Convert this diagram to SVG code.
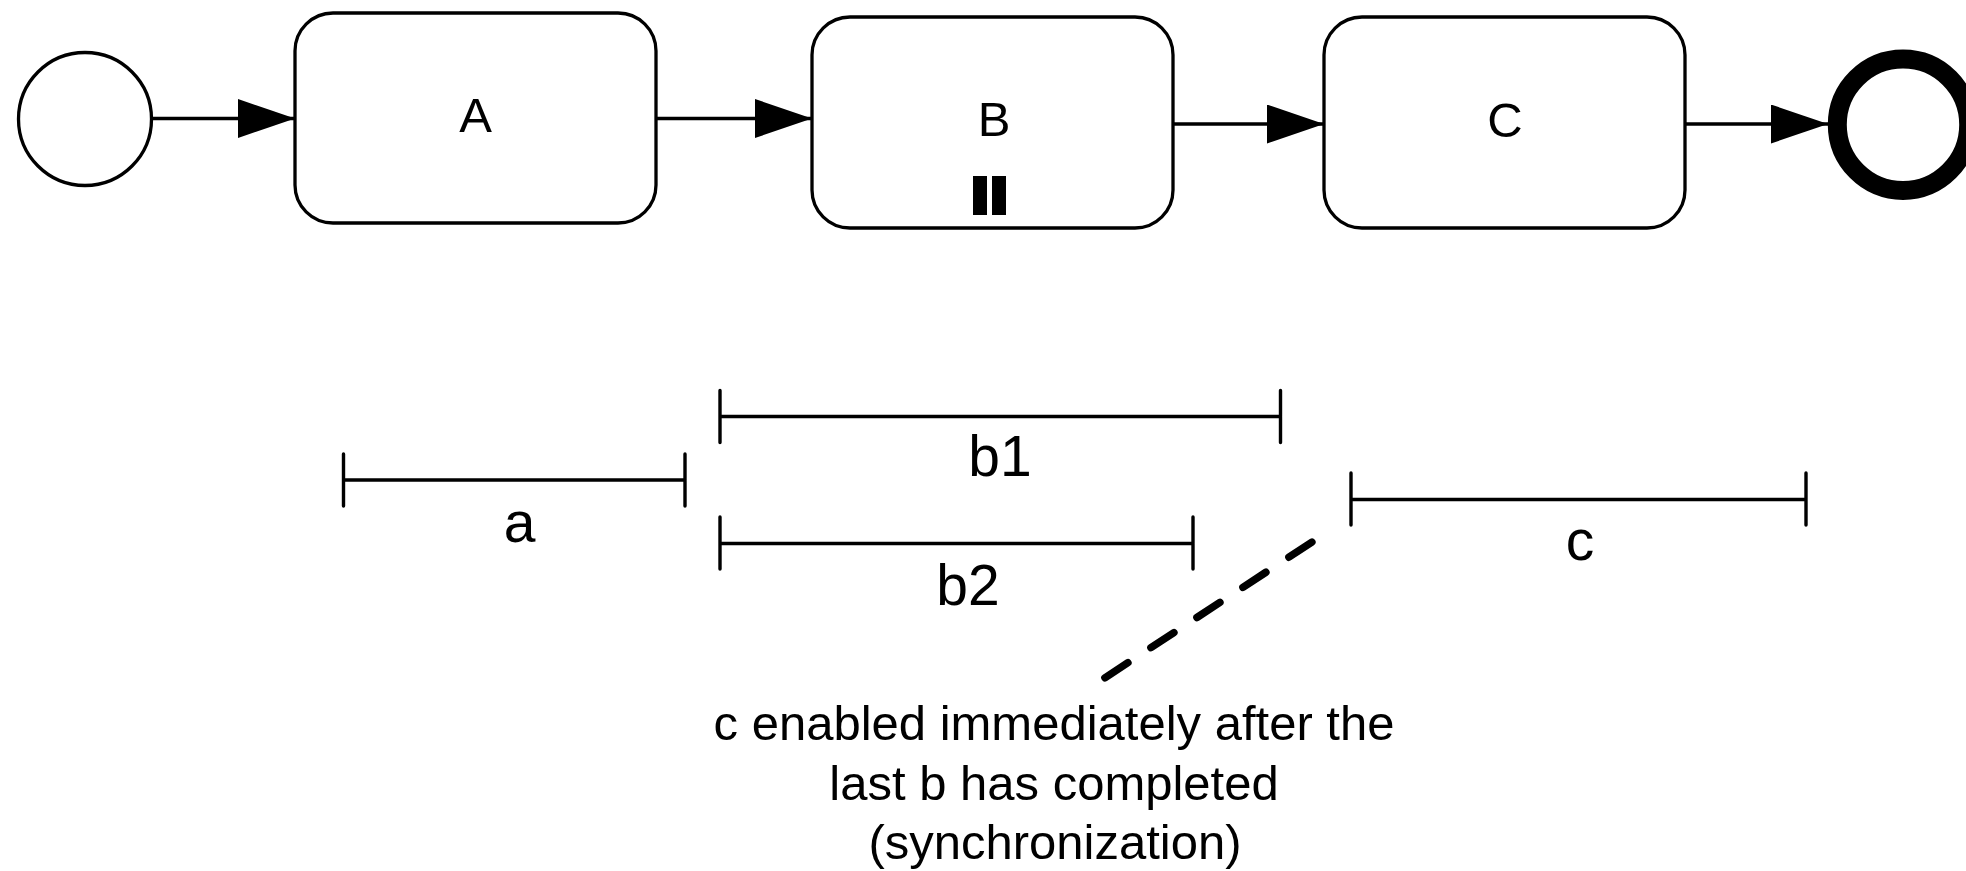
<svg xmlns="http://www.w3.org/2000/svg" width="1966" height="871" viewBox="0 0 1966 871">
  <style>
    .task { fill: #fff; stroke: #000; stroke-width: 3.3; }
    .lbl { font-family: "Liberation Sans", Arial, sans-serif; fill: #000; text-anchor: middle; }
    .node-lbl { font-size: 49px; }
    .bar-lbl { font-size: 57px; }
    .note { font-size: 49px; }
    .flow { stroke: #000; stroke-width: 3.6; fill: none; }
    .bar { stroke: #000; stroke-width: 3.4; fill: none; stroke-linecap: round; }
    .dash { stroke: #000; stroke-width: 7.5; fill: none; stroke-linecap: round; stroke-dasharray: 27.5 27.5; }
  </style>
  <defs>
    <marker id="arrow" markerUnits="userSpaceOnUse" markerWidth="57" markerHeight="40" refX="57" refY="19.5" orient="auto">
      <path d="M0,0 L57,19.5 L0,39 Z" fill="#000"/>
    </marker>
  </defs>
  <rect width="1966" height="871" fill="#fff"/>

  <g id="start">
    <circle cx="85" cy="119" r="66.5" fill="#fff" stroke="#000" stroke-width="3.3"/>
  </g>
  <g id="taskA">
    <rect class="task" x="295" y="13" width="361" height="210" rx="38" ry="38"/>
    <text class="lbl node-lbl" x="475.5" y="131.5">A</text>
  </g>
  <g id="taskB">
    <rect class="task" x="812" y="17" width="361" height="211" rx="38" ry="38"/>
    <text class="lbl node-lbl" x="994" y="136">B</text>
    <rect x="973" y="176" width="14" height="39" fill="#000"/>
    <rect x="992" y="176" width="14" height="39" fill="#000"/>
  </g>
  <g id="taskC">
    <rect class="task" x="1324" y="17" width="361" height="211" rx="38" ry="38"/>
    <text class="lbl node-lbl" x="1505" y="136.5">C</text>
  </g>
  <g id="end">
    <circle cx="1903" cy="124.7" r="65.7" fill="#fff" stroke="#000" stroke-width="19"/>
  </g>

  <g id="connectors">
    <line class="flow" x1="152" y1="118.5" x2="295" y2="118.5" marker-end="url(#arrow)"/>
    <line class="flow" x1="656" y1="118.5" x2="812" y2="118.5" marker-end="url(#arrow)"/>
    <line class="flow" x1="1173" y1="124" x2="1324" y2="124" marker-end="url(#arrow)"/>
    <line class="flow" x1="1685" y1="124" x2="1828" y2="124" marker-end="url(#arrow)"/>
  </g>

  <g id="timeline">
    <g id="bar-a">
      <path class="bar" d="M343.5,480 H685 M343.5,454 V506 M685,454 V506"/>
      <text class="lbl bar-lbl" x="519.5" y="541.5">a</text>
    </g>
    <g id="bar-b1">
      <path class="bar" d="M720,416.5 H1280.5 M720,390.5 V442.5 M1280.5,390.5 V442.5"/>
      <text class="lbl bar-lbl" x="1000" y="476">b1</text>
    </g>
    <g id="bar-b2">
      <path class="bar" d="M720,543.5 H1193 M720,517 V569 M1193,517 V569"/>
      <text class="lbl bar-lbl" x="968" y="605">b2</text>
    </g>
    <g id="bar-c">
      <path class="bar" d="M1351,499.5 H1806 M1351,473 V525 M1806,473 V525"/>
      <text class="lbl bar-lbl" x="1580" y="560">c</text>
    </g>
  </g>

  <g id="annotation">
    <line class="dash" x1="1311.9" y1="542.1" x2="1104.8" y2="677.9"/>
    <text class="lbl note" x="1054" y="740">c enabled immediately after the</text>
    <text class="lbl note" x="1054" y="800">last b has completed</text>
    <text class="lbl note" x="1055" y="859">(synchronization)</text>
  </g>
</svg>
